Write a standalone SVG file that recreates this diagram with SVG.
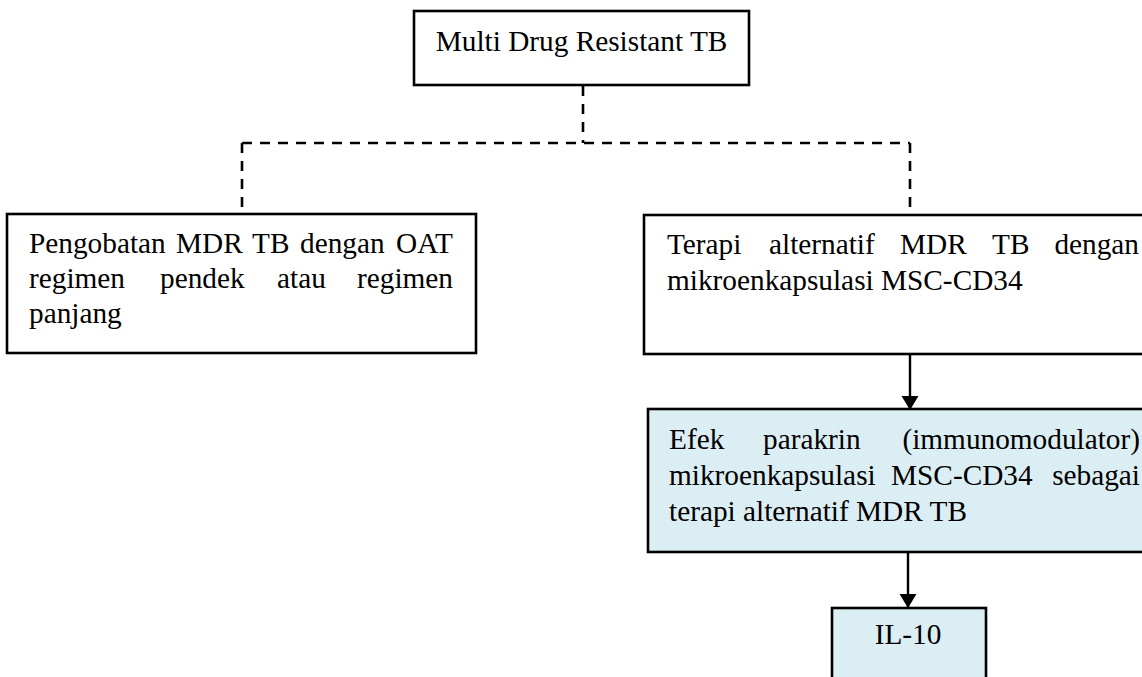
<svg xmlns="http://www.w3.org/2000/svg" width="1142" height="677" viewBox="0 0 1142 677">
  <style>
    .box { fill: #ffffff; stroke: #000000; stroke-width: 2.6; }
    .box.blue { fill: #dbeef3; }
    .t { font-family: "Liberation Serif", "Times New Roman", serif; font-size: 29.3px; fill: #000000; }
    .dash { fill: none; stroke: #000000; stroke-width: 2.6; stroke-dasharray: 10 8; }
    .solid { fill: none; stroke: #000000; stroke-width: 2.4; }
  </style>
  <defs>
    <marker id="arrow" markerUnits="userSpaceOnUse" markerWidth="15" markerHeight="18" refX="14" refY="8.5" orient="auto">
      <path d="M0,0 L14,8.5 L0,17 z" fill="#000000"/>
    </marker>
  </defs>

  <rect width="1142" height="677" fill="#ffffff"/>

  <!-- connectors -->
  <g id="connectors">
    <path class="dash" d="M583,86 V143"/>
    <path class="dash" d="M242,143 H910"/>
    <path class="dash" d="M242,143 V210"/>
    <path class="dash" d="M910,143 V211"/>
    <path class="solid" d="M910,347 V410" marker-end="url(#arrow)"/>
    <path class="solid" d="M908,548 V608" marker-end="url(#arrow)"/>
  </g>

  <!-- root -->
  <g id="node-mdr-tb">
    <rect class="box" x="414" y="11" width="335" height="74"/>
    <text class="t" x="581.5" y="51" text-anchor="middle">Multi Drug Resistant TB</text>
  </g>

  <!-- standard treatment -->
  <g id="node-pengobatan">
    <rect class="box" x="7" y="214" width="469" height="139"/>
    <text class="t" y="253">
      <tspan x="29">Pengobatan</tspan><tspan x="176">MDR</tspan><tspan x="252">TB</tspan><tspan x="300">dengan</tspan><tspan x="453" text-anchor="end">OAT</tspan>
    </text>
    <text class="t" y="288">
      <tspan x="29">regimen</tspan><tspan x="160">pendek</tspan><tspan x="277">atau</tspan><tspan x="453" text-anchor="end">regimen</tspan>
    </text>
    <text class="t" x="29" y="323">panjang</text>
  </g>

  <!-- alternative therapy -->
  <g id="node-terapi">
    <rect class="box" x="644" y="215" width="520" height="139"/>
    <text class="t" y="254">
      <tspan x="667">Terapi</tspan><tspan x="769">alternatif</tspan><tspan x="900">MDR</tspan><tspan x="992">TB</tspan><tspan x="1139" text-anchor="end">dengan</tspan>
    </text>
    <text class="t" x="667" y="290">mikroenkapsulasi MSC-CD34</text>
  </g>

  <!-- paracrine effect -->
  <g id="node-efek">
    <rect class="box blue" x="648" y="409" width="520" height="143"/>
    <text class="t" y="449">
      <tspan x="669">Efek</tspan><tspan x="763">parakrin</tspan><tspan x="1140" text-anchor="end">(immunomodulator)</tspan>
    </text>
    <text class="t" y="485">
      <tspan x="669">mikroenkapsulasi</tspan><tspan x="891">MSC-CD34</tspan><tspan x="1140" text-anchor="end">sebagai</tspan>
    </text>
    <text class="t" x="669" y="521">terapi alternatif MDR TB</text>
  </g>

  <!-- cytokine -->
  <g id="node-il10">
    <rect class="box blue" x="832" y="608" width="154" height="90"/>
    <text class="t" x="908" y="644" text-anchor="middle">IL-10</text>
  </g>
</svg>
